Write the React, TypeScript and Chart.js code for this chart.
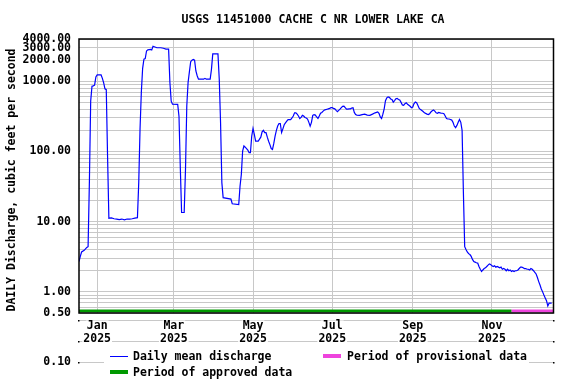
import { useEffect, useRef } from "react";
import { Chart, registerables } from "chart.js";

Chart.register(...registerables);

// ---------- data ----------
const TITLE = "USGS 11451000 CACHE C NR LOWER LAKE CA";
const Y_TITLE = "DAILY Discharge, cubic feet per second";

// days since 2025-01-01
const dayOffsets = [
  0, 1, 2, 4, 6, 7, 8, 9, 10, 11, 12, 13, 14, 17, 18, 19, 20, 21, 22, 23,
  25, 27, 29, 31, 33, 35, 37, 39, 41, 43, 45, 46, 47, 48, 49, 50, 51, 52, 53, 55,
  56, 57, 58, 60, 63, 65, 67, 69, 70, 71, 72, 76, 77, 78, 79, 81, 82, 83, 84, 85,
  86, 87, 88, 89, 90, 91, 92, 96, 97, 98, 101, 102, 103, 107, 108, 109, 110, 111, 117, 118,
  123, 124, 125, 126, 127, 128, 130, 131, 132, 133, 134, 135, 136, 138, 139, 140, 141, 142, 143, 144,
  145, 146, 147, 148, 149, 150, 151, 152, 153, 154, 155, 156, 157, 158, 159, 160, 161, 163, 164, 165,
  166, 167, 168, 169, 170, 171, 172, 173, 174, 175, 176, 177, 178, 179, 180, 181, 182, 183, 184, 185,
  186, 187, 188, 189, 190, 191, 192, 193, 194, 195, 196, 197, 198, 199, 200, 201, 202, 203, 204, 205,
  206, 207, 208, 209, 210, 211, 212, 213, 214, 216, 218, 220, 222, 224, 226, 228, 230, 231, 232, 233,
  234, 235, 236, 237, 238, 239, 240, 241, 242, 243, 244, 245, 246, 247, 248, 249, 250, 251, 252, 253,
  254, 255, 256, 257, 258, 259, 260, 261, 262, 263, 265, 266, 268, 269, 270, 271, 272, 273, 274, 275,
  276, 277, 278, 279, 280, 281, 282, 283, 284, 285, 286, 287, 288, 289, 290, 291, 292, 293, 294, 295,
  296, 297, 298, 299, 300, 301, 302, 303, 304, 305, 306, 307, 308, 309, 310, 311, 312, 313, 314, 315,
  316, 317, 318, 319, 320, 321, 322, 323, 324, 325, 326, 327, 328, 329, 330, 331, 332, 333, 334, 335,
  336, 337, 338, 339, 340, 341, 342, 343, 344, 345, 346, 347, 348, 349, 350, 351, 352, 353, 354, 355,
  356, 357, 358, 359, 360, 361, 362, 363, 364,
];

// daily mean discharge, cfs
const dailyMeanCfs = [
  2.7, 3.2, 3.7, 3.9, 4.3, 4.4, 37, 525, 850, 860, 880, 1150, 1230, 1230, 1100, 950, 780, 760, 85, 11.2,
  11.3, 11.0, 10.9, 10.7, 10.9, 10.6, 10.9, 10.9, 11.0, 11.2, 11.4, 36, 207, 700, 1530, 2070, 2100, 2700, 2800, 2850,
  2800, 3150, 3100, 3000, 3000, 2950, 2870, 2870, 960, 520, 470, 468, 316, 60, 13.5, 13.5, 55, 443, 960, 1360,
  1900, 2000, 2050, 2000, 1400, 1200, 1070, 1070, 1100, 1070, 1070, 1480, 2450, 2450, 1070, 260, 36, 22, 21, 18,
  17.5, 32, 47, 101, 120, 115, 105, 96, 96, 165, 213, 175, 140, 140, 150, 160, 190, 200, 186, 186,
  160, 140, 125, 110, 107, 130, 165, 200, 230, 250, 250, 186, 210, 240, 256, 270, 285, 285, 300, 320,
  355, 355, 340, 320, 294, 305, 327, 320, 305, 300, 290, 260, 230, 260, 327, 335, 330, 310, 295, 320,
  350, 360, 375, 390, 395, 400, 405, 410, 420, 420, 410, 405, 385, 370, 385, 400, 420, 440, 443, 420,
  400, 400, 405, 405, 415, 420, 360, 335, 330, 327, 335, 340, 330, 327, 340, 355, 365, 350, 310, 295,
  340, 405, 530, 580, 600, 590, 560, 550, 505, 530, 565, 570, 550, 540, 500, 460, 455, 480, 495, 470,
  455, 440, 420, 430, 480, 505, 495, 450, 410, 395, 370, 355, 340, 335, 345, 365, 380, 390, 375, 355,
  350, 360, 355, 350, 350, 345, 320, 295, 290, 290, 285, 280, 260, 230, 218, 235, 260, 285, 260, 200,
  26, 4.4, 4.0, 3.7, 3.5, 3.4, 3.2, 2.9, 2.7, 2.65, 2.6, 2.57, 2.3, 2.1, 1.95, 2.05, 2.15, 2.2, 2.3, 2.4,
  2.5, 2.45, 2.35, 2.3, 2.35, 2.25, 2.3, 2.25, 2.2, 2.25, 2.1, 2.15, 2.1, 2.0, 2.1, 2.0, 2.05, 1.95, 2.0, 1.95,
  2.0, 2.0, 2.05, 2.15, 2.25, 2.25, 2.2, 2.15, 2.15, 2.1, 2.1, 2.05, 2.15, 2.1, 2.0, 1.9, 1.8, 1.6, 1.4, 1.25,
  1.1, 1.0, 0.9, 0.82, 0.75, 0.63, 0.69, 0.69, 0.69,
];

const approvedSpan = [0, 333];
const provisionalSpan = [333, 365];
const periodLevel = 0.534;

const xRange = [0, 365];
const monthTickDays = [14, 73, 134, 195, 257, 318];
const monthTickLabels = ["Jan", "Mar", "May", "Jul", "Sep", "Nov"];
const yearLabel = "2025";

const yRange = [0.5, 4000];
const yGridValues = [
  0.5, 0.6, 0.7, 0.8, 0.9,
  1, 2, 3, 4, 5, 6, 7, 8, 9,
  10, 20, 30, 40, 50, 60, 70, 80, 90,
  100, 200, 300, 400, 500, 600, 700, 800, 900,
  1000, 2000, 3000, 4000,
];
const yLabelValues = [0.5, 1, 10, 100, 1000, 2000, 3000, 4000];
const belowAxisValues = [0.4, 0.2, 0.1];
const lowestLabelValue = 0.1;

const legendItems = ["Daily mean discharge", "Period of approved data", "Period of provisional data"];

// ---------- styles ----------
const FAMILY = "'DejaVu Sans Mono', monospace";
const FS = 11.5;
const LH = 13;
const TICK_PAD = 6.5;
const fontStr = `bold ${FS}px ${FAMILY}`;
const GRID = "#c8c8c8";
const BLUE = "#0000ff";
const GREEN = "#009900";
const PINK = "#ee44dd";

const decorPlugin = {
  id: "usgsDecor",
  beforeDraw(chart: any) {
    const { ctx, chartArea: a, scales } = chart;
    const y = scales.y;
    const x = scales.x;
    ctx.save();
    ctx.fillStyle = "#ffffff";
    ctx.fillRect(0, 0, chart.width, chart.height);
    ctx.strokeStyle = GRID;
    ctx.lineWidth = 1;
    for (const v of belowAxisValues) {
      const py = Math.round(y.getPixelForValue(v)) + 0.5;
      ctx.beginPath();
      ctx.moveTo(a.left, py);
      ctx.lineTo(a.right, py);
      ctx.stroke();
    }
    // white boxes behind the x tick label lines
    ctx.font = fontStr;
    ctx.fillStyle = "#ffffff";
    monthTickDays.forEach((d, i) => {
      const px = x.getPixelForValue(d);
      [monthTickLabels[i], yearLabel].forEach((t, k) => {
        const w = ctx.measureText(t).width + 2;
        const cy = a.bottom + TICK_PAD + LH / 2 + k * LH;
        ctx.fillRect(px - w / 2, cy - 5.5, w, 11);
      });
    });
    ctx.restore();
  },
  afterDraw(chart: any) {
    const { ctx, chartArea: a, scales } = chart;
    const y = scales.y;
    ctx.save();

    // frame
    ctx.strokeStyle = "#000";
    ctx.lineWidth = 1.5;
    ctx.strokeRect(a.left, a.top, a.right - a.left + 0.5, a.bottom - a.top);

    // small tick dots below the frame
    ctx.fillStyle = "#000";
    for (const v of belowAxisValues) {
      const py = Math.round(y.getPixelForValue(v));
      ctx.fillRect(a.left - 1, py, 1.5, 1.5);
      ctx.fillRect(a.right, py, 1.5, 1.5);
    }

    ctx.font = fontStr;
    ctx.fillStyle = "#000";

    // title
    ctx.textAlign = "center";
    ctx.textBaseline = "middle";
    ctx.fillText(TITLE, (a.left + a.right) / 2 - 3, 20);

    // y title
    ctx.save();
    ctx.translate(12, 180);
    ctx.rotate(-Math.PI / 2);
    ctx.fillText(Y_TITLE, 0, 0);
    ctx.restore();

    // lowest label
    const p01 = Math.round(y.getPixelForValue(lowestLabelValue));
    ctx.textAlign = "right";
    ctx.fillText(lowestLabelValue.toFixed(2), a.left - 8, p01 + 0.5);

    // legend box
    ctx.fillStyle = "#ffffff";
    ctx.fillRect(104, 348, 425, 34);

    ctx.textAlign = "left";
    ctx.fillStyle = "#000";
    // entry 1
    ctx.strokeStyle = BLUE;
    ctx.lineWidth = 1;
    ctx.beginPath();
    ctx.moveTo(110, 356.5);
    ctx.lineTo(128, 356.5);
    ctx.stroke();
    ctx.fillText(legendItems[0], 133, 357);
    // entry 2
    ctx.strokeStyle = GREEN;
    ctx.lineWidth = 4;
    ctx.beginPath();
    ctx.moveTo(110, 372);
    ctx.lineTo(128, 372);
    ctx.stroke();
    ctx.fillText(legendItems[1], 133, 373);
    // entry 3
    ctx.strokeStyle = PINK;
    ctx.beginPath();
    ctx.moveTo(323, 356);
    ctx.lineTo(341, 356);
    ctx.stroke();
    ctx.fillText(legendItems[2], 347, 357);

    ctx.restore();
  },
};

export default function App() {
  const ref = useRef<HTMLCanvasElement | null>(null);

  useEffect(() => {
    const canvas = ref.current;
    if (!canvas) return;
    const flowPoints = dayOffsets.map((d, i) => ({ x: d, y: dailyMeanCfs[i] }));
    const chart = new Chart(canvas, {
      type: "line",
      data: {
        datasets: [
          {
            label: legendItems[0],
            data: flowPoints,
            borderColor: BLUE,
            borderWidth: 1.2,
            pointRadius: 0,
            tension: 0,
            fill: false,
          },
          {
            label: legendItems[1],
            data: approvedSpan.map((d) => ({ x: d, y: periodLevel })),
            borderColor: GREEN,
            borderWidth: 3,
            pointRadius: 0,
            clip: false as any,
          },
          {
            label: legendItems[2],
            data: provisionalSpan.map((d) => ({ x: d, y: periodLevel })),
            borderColor: PINK,
            borderWidth: 3,
            pointRadius: 0,
            clip: false as any,
          },
        ],
      },
      options: {
        animation: false,
        responsive: false,
        maintainAspectRatio: false,
        layout: { padding: { left: 0, right: 23, top: 39, bottom: 0 } },
        plugins: {
          legend: { display: false },
          title: { display: false },
          tooltip: { enabled: false },
        },
        scales: {
          x: {
            type: "linear",
            min: xRange[0],
            max: xRange[1],
            afterFit: (s: any) => {
              s.height = 71;
            },
            afterBuildTicks: (s: any) => {
              s.ticks = monthTickDays.map((v) => ({ value: v }));
            },
            grid: { color: GRID, lineWidth: 1, drawTicks: false },
            border: { display: false },
            ticks: {
              autoSkip: false,
              maxRotation: 0,
              padding: TICK_PAD,
              color: "#000",
              font: { family: FAMILY, size: FS, weight: "bold", lineHeight: `${LH}px` },
              callback: (v: any) => {
                const i = monthTickDays.indexOf(Number(v));
                return i >= 0 ? [monthTickLabels[i], yearLabel] : "";
              },
            } as any,
          },
          y: {
            type: "logarithmic",
            min: yRange[0],
            max: yRange[1],
            afterFit: (s: any) => {
              s.width = 79;
            },
            afterBuildTicks: (s: any) => {
              s.ticks = yGridValues.map((v) => ({ value: v }));
            },
            grid: { color: GRID, lineWidth: 1, drawTicks: false },
            border: { display: false },
            ticks: {
              autoSkip: false,
              padding: 8,
              color: "#000",
              font: { family: FAMILY, size: FS, weight: "bold" },
              callback: (v: any) => {
                const n = Number(v);
                return yLabelValues.some((l) => Math.abs(l - n) < 1e-9) ? n.toFixed(2) : "";
              },
            },
          },
        },
      },
      plugins: [decorPlugin],
    });
    return () => chart.destroy();
  }, []);

  return (
    <div style={{ position: "absolute", left: 0, top: 0, width: 576, height: 384, background: "#fff" }}>
      <canvas ref={ref} width={576} height={384} style={{ display: "block" }} />
    </div>
  );
}
